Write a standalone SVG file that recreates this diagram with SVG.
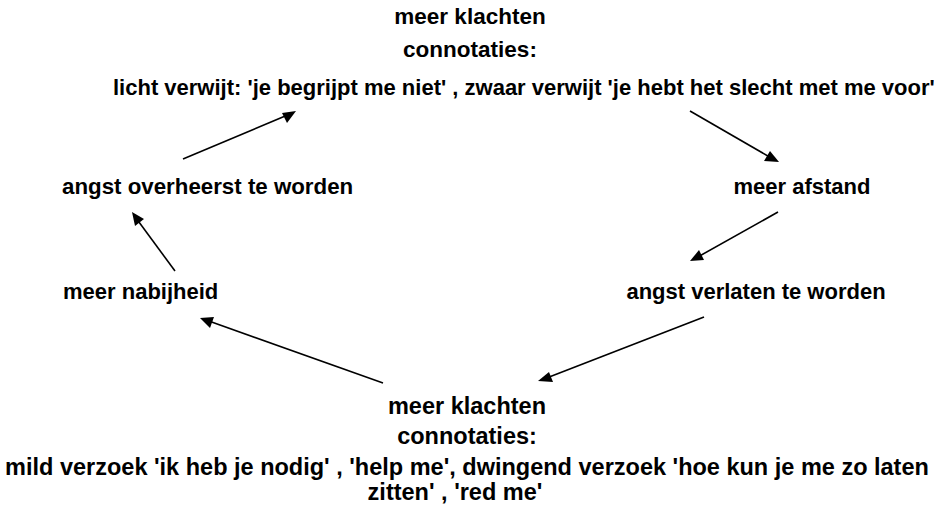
<svg xmlns="http://www.w3.org/2000/svg" width="934" height="507" viewBox="0 0 934 507">
  <style>
    text { font-family: "Liberation Sans", Arial, sans-serif; font-weight: bold; font-size: 22px; fill: #000; }
    .c { text-anchor: middle; }
    .big { font-size: 23.5px; }
    .edge { stroke: #000; stroke-width: 1.6; fill: none; }
    .head { fill: #000; }
  </style>
  <rect width="934" height="507" fill="#fff"/>

  <!-- cycle arrows: shaft plus filled head -->
  <g id="connectors">
    <line class="edge" x1="183" y1="159" x2="290" y2="114"/>
    <path class="head" d="M296,111 L282,113 L287,123 z"/>
    <line class="edge" x1="690" y1="111" x2="773" y2="159"/>
    <path class="head" d="M779,162 L770,151 L764,161 z"/>
    <line class="edge" x1="778" y1="212" x2="696" y2="258"/>
    <path class="head" d="M690,261 L699,250 L704,260 z"/>
    <line class="edge" x1="704" y1="317" x2="544" y2="379"/>
    <path class="head" d="M538,381 L549,372 L553,382 z"/>
    <line class="edge" x1="383" y1="383" x2="206" y2="320"/>
    <path class="head" d="M200,318 L214,317 L210,328 z"/>
    <line class="edge" x1="175" y1="271" x2="136" y2="218"/>
    <path class="head" d="M132,212 L144,219 L135,226 z"/>
  </g>

  <g id="node-top">
    <text class="c" x="470" y="24" style="font-size:22.5px">meer klachten</text>
    <text class="c" x="470" y="57" style="font-size:22.5px">connotaties:</text>
    <text x="113" y="95">licht verwijt: 'je begrijpt me niet' , zwaar verwijt 'je hebt het slecht met me voor'</text>
  </g>
  <g id="node-afstand">
    <text class="c" x="802" y="194">meer afstand</text>
  </g>
  <g id="node-verlaten">
    <text class="c" x="756" y="299">angst verlaten te worden</text>
  </g>
  <g id="node-bottom">
    <text class="c big" x="467" y="414">meer klachten</text>
    <text class="c big" x="467" y="444">connotaties:</text>
    <text class="c big" x="467" y="475">mild verzoek 'ik heb je nodig' , 'help me', dwingend verzoek 'hoe kun je me zo laten</text>
    <text class="c big" x="455" y="500">zitten' , 'red me'</text>
  </g>
  <g id="node-nabijheid">
    <text x="63" y="299">meer nabijheid</text>
  </g>
  <g id="node-overheerst">
    <text x="62" y="194" style="font-size:22.3px">angst overheerst te worden</text>
  </g>
</svg>
